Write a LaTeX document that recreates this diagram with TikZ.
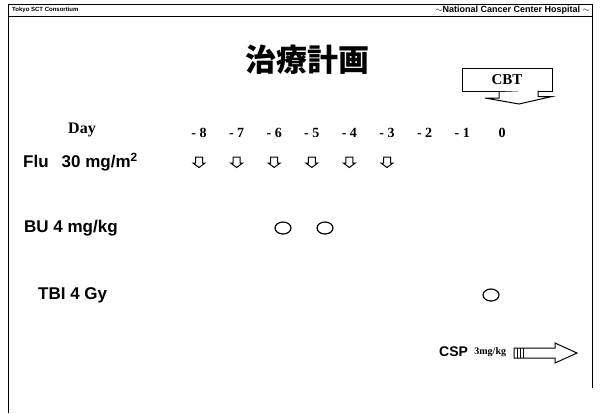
\documentclass[tikz,border=0pt]{standalone}
\usepackage{fontspec}
\setmainfont{Liberation Serif}
\setsansfont{Liberation Sans}
\newfontfamily\cjk{Noto Sans CJK JP}
\usetikzlibrary{shapes.geometric}
\tikzset{
  frameline/.style={line width=1pt},
  sanslbl/.style={font=\sffamily\bfseries\fontsize{17}{17}\selectfont, anchor=west, inner sep=0pt},
  daylbl/.style={font=\rmfamily\bfseries\fontsize{14}{14}\selectfont, inner sep=0pt},
  dose/.style={line width=1.2pt, draw=black, ellipse, minimum width=16pt, minimum height=12pt, inner sep=0pt},
  fluarrow/.style={line width=1pt, line join=miter},
}
\begin{document}
\begin{tikzpicture}[x=1pt,y=-1pt]
\useasboundingbox (0,0) rectangle (601,413);
% frame
\draw[frameline] (8,413) -- (8,4) -- (592,4) -- (592,388);
\draw[frameline] (8,16.5) -- (592,16.5);
\node[font=\sffamily\bfseries\fontsize{6}{6}\selectfont, anchor=west, inner sep=0pt] (hl) at (12,10) {Tokyo SCT Consortium};
\node[font=\sffamily\bfseries\fontsize{9}{9}\selectfont, anchor=east, inner sep=0pt] (hr) at (590,10) {$\sim$National Cancer Center Hospital $\sim$};
% title
\node[font=\cjk\bfseries\fontsize{31}{31}\selectfont, inner sep=0pt] (title) at (307,60) {治療計画};
% CBT box and arrow
\node[draw, line width=1pt, minimum width=90pt, minimum height=23pt, inner sep=0pt, font=\rmfamily\bfseries\fontsize{15}{15}\selectfont] (cbt) at (507,80) {CBT};
\coordinate (ca) at (519,0);
\draw[line width=1pt, fill=white, line join=miter] (ca |- cbt.south) ++(-20,0) -- ++(0,6) -- ++(-14,0) -- (519,104) -- ++(33,-7.5) -- ++(-14,0) -- ++(0,-6);
% day row
\node[daylbl, font=\rmfamily\bfseries\fontsize{16}{16}\selectfont] (day) at (82,130) {Day};
\foreach \d [count=\i from 0] in {8,7,6,5,4,3,2,1} {
  \node[daylbl] (d\i) at ({199+37.6*\i},133) {-\hspace{3.5pt}\d};
}
\node[daylbl] (d8) at (502,133) {0};
% Flu row
\node[sanslbl] (flu) at (23,162) {Flu\hspace{13pt}30 mg/m\textsuperscript{2}};
\foreach \i in {0,...,5} {
  \coordinate (f\i) at ({199+37.6*\i},157);
  \draw[fluarrow] ([xshift=-3.5pt]f\i) -- ++(7,0) -- ++(0,6) -- ++(2.5,0) -- ++(-6,4.5) -- ++(-6,-4.5) -- ++(2.5,0) -- cycle;
}
% BU row
\node[sanslbl] (bu) at (24,228) {BU 4 mg/kg};
\node[dose] (bu1) at (283,228) {};
\node[dose] (bu2) at (325,228) {};
% TBI row
\node[sanslbl] (tbi) at (38,295) {TBI 4 Gy};
\node[dose] (tbi1) at (491,295) {};
% CSP row
\node[font=\sffamily\bfseries\fontsize{14}{14}\selectfont, anchor=west, inner sep=0pt] (csp) at (439,352) {CSP};
\node[font=\rmfamily\bfseries\fontsize{10}{10}\selectfont, anchor=west, inner sep=0pt] (cspdose) at (csp.east) {\hspace{6pt}3mg/kg};
\coordinate (ct) at (514,353);
\draw[line width=1pt, line join=miter] (ct) ++(0,-5) -- ++(41,0) -- ++(0,-5) -- (577,353) -- (555,363) -- ++(0,-5) -- ++(-41,0) -- cycle;
\foreach \s in {3,6,9} \draw[line width=0.8pt] ([xshift=\s pt]ct) ++(0,-5) -- ++(0,10);
\end{tikzpicture}
\end{document}
